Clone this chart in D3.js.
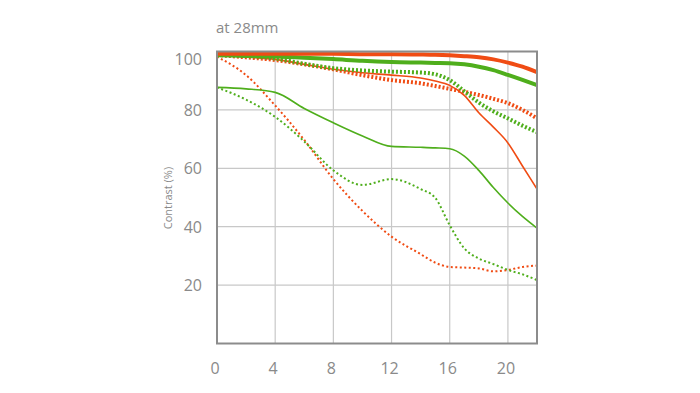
<!DOCTYPE html>
<html><head><meta charset="utf-8">
<script src="https://cdn.jsdelivr.net/npm/d3@7"></script>
<style>body{margin:0;background:#fff;}svg{display:block;}</style>
</head><body>
<svg id="c" width="700" height="393"></svg>
<script>
const xs = [0,2,4,6,8,10,12,14,15,16,17,18,19,20,21,22];
const xTicks = [0,4,8,12,16,20];
const yTicks = [20,40,60,80,100];
const redThickSolid   = [99.2,99.2,99.2,99.2,99.2,99.1,99.1,99,98.9,98.7,98.4,98,97.3,96.2,94.8,92.9];
const greenThickSolid = [98.7,98.5,98.3,97.9,97.4,96.8,96.4,96.2,96.1,96,95.6,94.8,93.6,92,90.3,88.5];
const redThickDotted  = [98.8,98,97.1,95.6,93.9,91.9,90.2,89.1,88.2,87.2,86.2,85.1,83.8,82.3,80,77.1];
const greenThickDotted= [98.8,98.5,97.6,95.8,94.3,93.5,93.1,92.8,92.2,90.2,86.4,82.5,79.5,77.1,74.6,72.4];
const redThinSolid    = [98.8,98.1,97.3,95.6,93.9,92.7,91.9,90.9,89.9,88.4,85,79,74.1,68.7,60.8,52.9];
const redThinDotted   = [98.2,91.9,81.5,69.7,56.3,45.4,36.6,30.6,27.7,26.2,26,25.7,24.7,25.2,26.2,26.7];
const greenThinSolid  = [87.7,87.2,86,80.5,75.6,71.1,67.5,67.2,67,66.7,64.2,59.3,53.4,48.1,43.5,39.5];
const greenThinDotted = [87.7,83.5,77.6,69.2,59.3,54.3,56.3,52.9,49.9,40.5,32.6,29.1,27.2,25.2,23.7,21.7];

const RED = "#f04c14", GREEN = "#4fae1c";
const series = [
  {v: redThinDotted, c: RED, w: 2, d: "2,2.5"},
  {v: greenThinDotted, c: GREEN, w: 2, d: "2,2.5"},
  {v: greenThinSolid, c: GREEN, w: 1.6, d: null},
  {v: redThinSolid, c: RED, w: 1.6, d: null},
  {v: redThickDotted, c: RED, w: 4, d: "2,2"},
  {v: greenThickDotted, c: GREEN, w: 4, d: "2,2"},
  {v: greenThickSolid, c: GREEN, w: 4, d: null},
  {v: redThickSolid, c: RED, w: 4, d: null}
];

const svg = d3.select("#c");
const x = d3.scaleLinear().domain([0,22]).range([217,537]);
const y = d3.scaleLinear().domain([0,100]).range([343.5,51.5]);

// grid
svg.append("g").selectAll("line").data(xTicks.slice(1)).join("line")
  .attr("x1",d=>x(d)).attr("x2",d=>x(d)).attr("y1",y(100)).attr("y2",y(0))
  .attr("stroke","#c8c8c8").attr("stroke-width",1.2);
svg.append("g").selectAll("line").data(yTicks.slice(0,-1)).join("line")
  .attr("x1",x(0)).attr("x2",x(22)).attr("y1",d=>y(d)).attr("y2",d=>y(d))
  .attr("stroke","#c8c8c8").attr("stroke-width",1.2);

// tick labels
svg.append("g").selectAll("text").data(xTicks).join("text")
  .attr("x",d=>x(d)-2).attr("y",374).attr("text-anchor","middle")
  .attr("font-family","Open Sans, sans-serif").attr("font-size",16).attr("fill","#8a8a8a")
  .text(d=>d);
svg.append("g").selectAll("text").data(yTicks).join("text")
  .attr("x",202).attr("y",d=>d===100 ? y(d)+13 : y(d)+6).attr("text-anchor","end")
  .attr("font-family","Open Sans, sans-serif").attr("font-size",16).attr("fill","#8a8a8a")
  .text(d=>d);

svg.append("text").attr("x",216).attr("y",33)
  .attr("font-family","Open Sans, sans-serif").attr("font-size",15).attr("fill","#8a8a8a")
  .text("at 28mm");
svg.append("text").attr("transform","translate(172,198) rotate(-90)").attr("text-anchor","middle")
  .attr("font-family","Open Sans, sans-serif").attr("font-size",11).attr("fill","#8a8a8a")
  .text("Contrast (%)");
svg.append("text").attr("x",383).attr("y",401).attr("text-anchor","middle")
  .attr("font-family","Open Sans, sans-serif").attr("font-size",11).attr("fill","#b0b0b0")
  .text("Distance from the image center (mm)");

svg.append("clipPath").attr("id","pc").append("rect")
  .attr("x",x(0)).attr("y",y(100)).attr("width",x(22)-x(0)).attr("height",y(0)-y(100));

const line = d3.line().x((d,i)=>x(xs[i])).y(d=>y(d)).curve(d3.curveMonotoneX);
svg.append("g").attr("clip-path","url(#pc)").selectAll("path").data(series).join("path")
  .attr("d",s=>line(s.v)).attr("fill","none").attr("stroke",s=>s.c)
  .attr("stroke-width",s=>s.w).attr("stroke-dasharray",s=>s.d);

// frame
svg.append("rect").attr("x",x(0)).attr("y",y(100)).attr("width",x(22)-x(0)).attr("height",y(0)-y(100))
  .attr("fill","none").attr("stroke","#8c8c8c").attr("stroke-width",2);
</script>
</body></html>
